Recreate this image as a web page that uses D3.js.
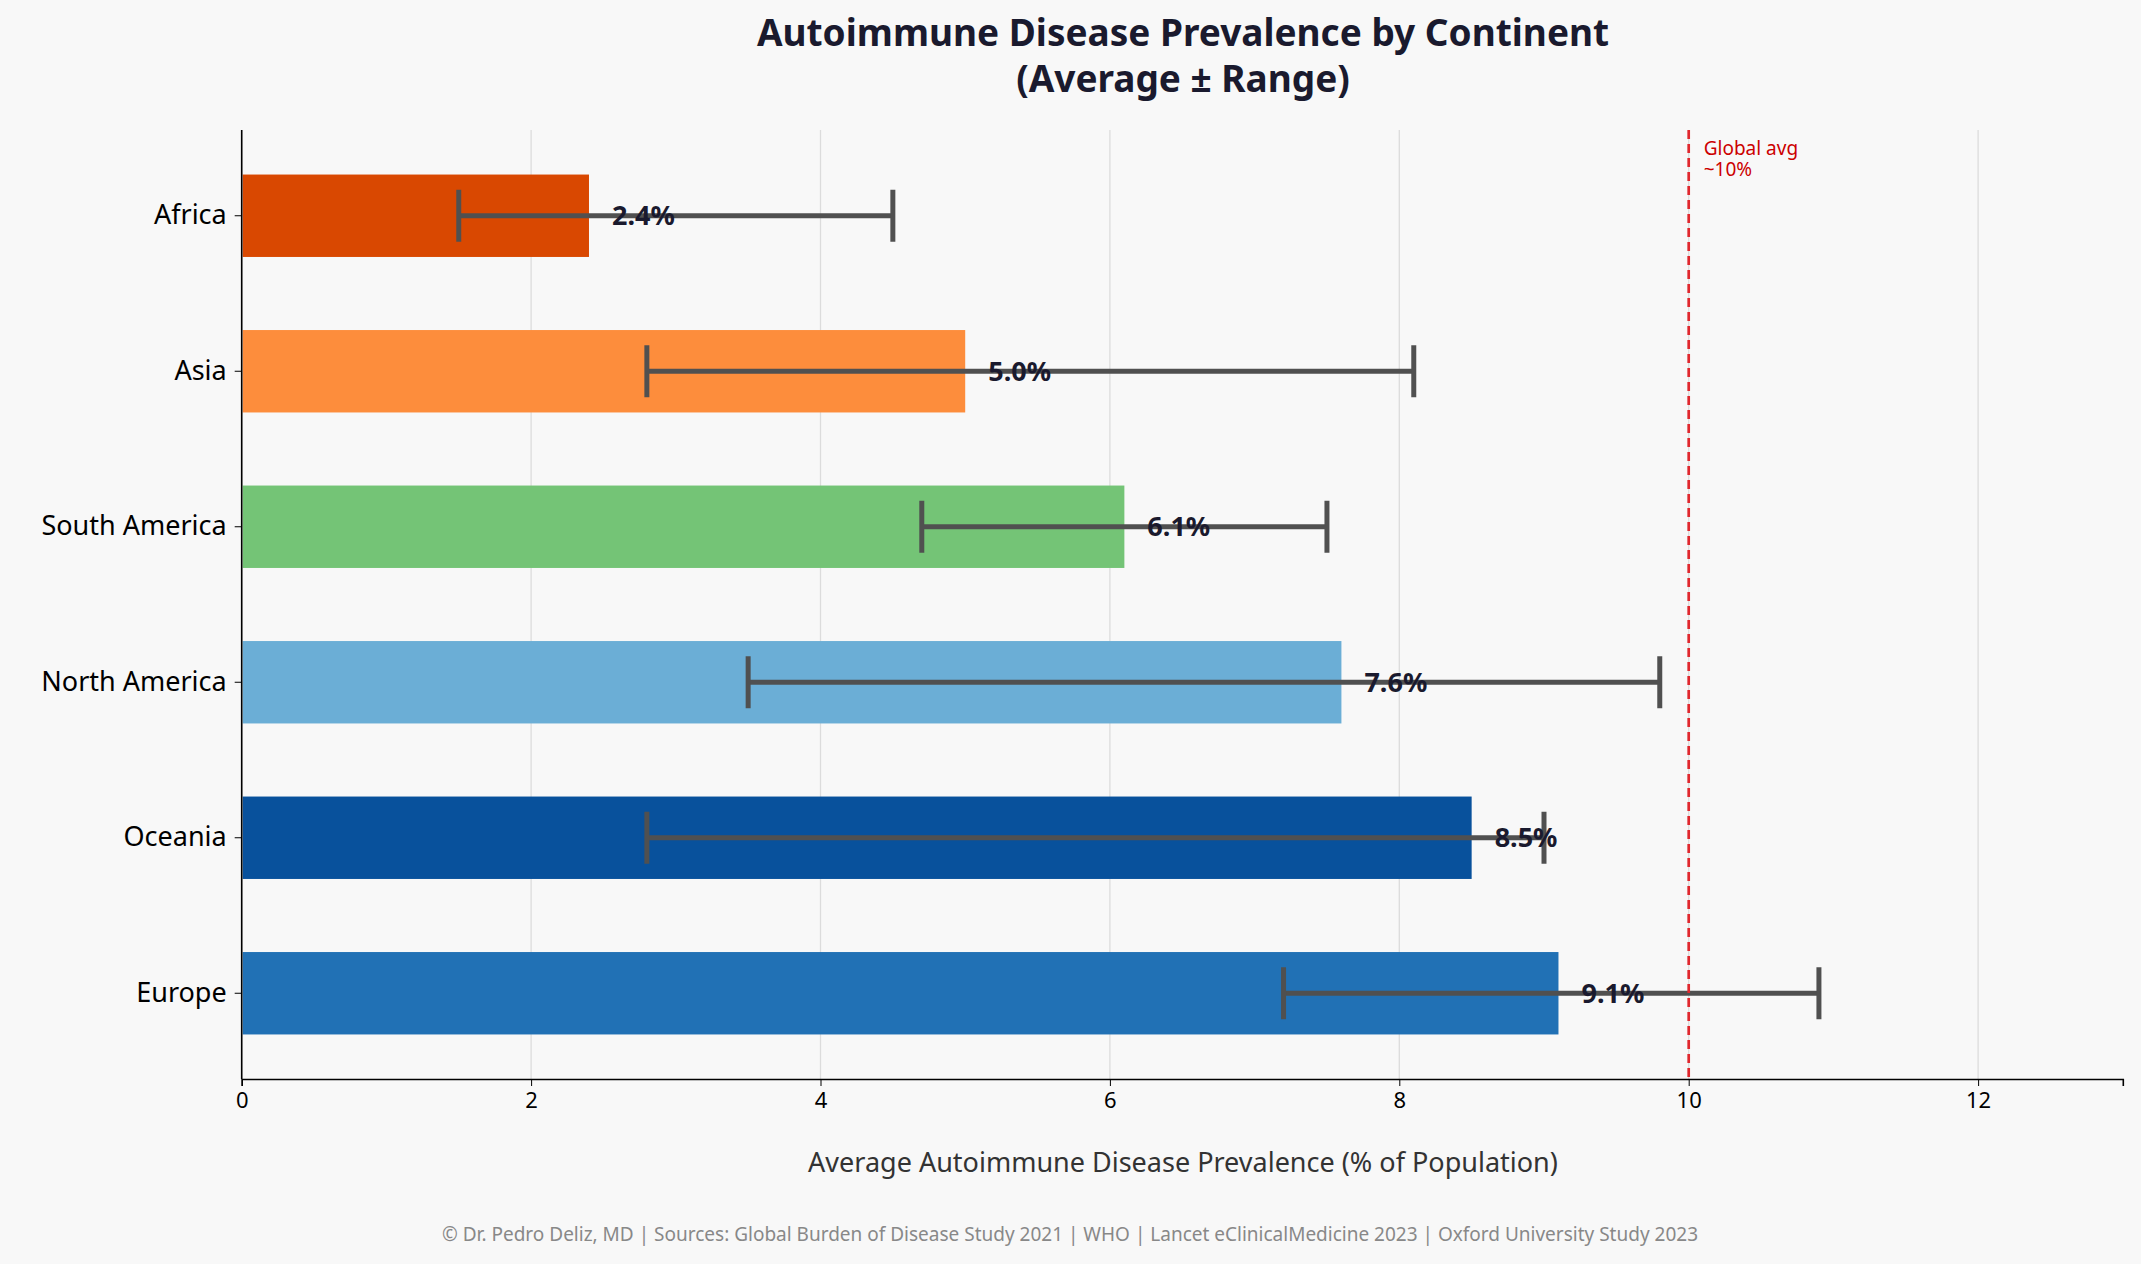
<!DOCTYPE html>
<html><head><meta charset="utf-8">
<script src="https://cdn.jsdelivr.net/npm/d3@7"></script>
<style>body{margin:0;background:#f8f8f8;font-family:"Noto Sans",sans-serif}</style>
</head><body><svg id="c" width="2141" height="1264"></svg>
<script>
const categories=["Africa","Asia","South America","North America","Oceania","Europe"];
const averages=[2.4,5.0,6.1,7.6,8.5,9.1];
const lows=[1.5,2.8,4.7,3.5,2.8,7.2];
const highs=[4.5,8.1,7.5,9.8,9.0,10.9];
const colors=["#d94801","#fd8d3c","#74c476","#6baed6","#08519c","#2171b5"];
const xTicks=[0,2,4,6,8,10,12];
const globalAvg=10;

const svg=d3.select("#c");
svg.append("rect").attr("width",2141).attr("height",1264).attr("fill","#f8f8f8");
const x=d3.scaleLinear().domain([0,13]).range([241.7,241.7+13*144.7]);
const y=d3.scaleBand().domain(categories).range([138,1071]).paddingInner(0.47).paddingOuter(0.235);
const pTop=130,pBot=1079;
svg.selectAll(".g").data(xTicks).join("line").attr("x1",d=>x(d)).attr("x2",d=>x(d))
 .attr("y1",pTop).attr("y2",pBot).attr("stroke","#dcdcdc").attr("stroke-width",1.3);
const bh=y.bandwidth();
svg.selectAll(".b").data(categories).join("rect").attr("x",x(0)+1).attr("y",d=>y(d))
 .attr("width",(d,i)=>x(averages[i])-x(0)-1).attr("height",bh).attr("fill",(d,i)=>colors[i]);
const eg=svg.append("g").attr("stroke","#505050").attr("stroke-width",5);
categories.forEach((c,i)=>{const cy=y(c)+bh/2;
 eg.append("line").attr("x1",x(lows[i])).attr("x2",x(highs[i])).attr("y1",cy).attr("y2",cy);
 [lows[i],highs[i]].forEach(v=>eg.append("line").attr("x1",x(v)).attr("x2",x(v)).attr("y1",cy-26).attr("y2",cy+26));
});
svg.selectAll(".v").data(categories).join("text").attr("x",(d,i)=>x(averages[i])+23)
 .attr("y",d=>y(d)+bh/2).attr("dy","0.35em").attr("font-size",27).attr("font-weight","bold")
 .attr("fill","#1a1a2e").text((d,i)=>averages[i].toFixed(1)+"%");
svg.append("line").attr("x1",x(globalAvg)).attr("x2",x(globalAvg)).attr("y1",pTop).attr("y2",pBot)
 .attr("stroke","#e0282e").attr("stroke-width",2.7).attr("stroke-dasharray","9,5");
const ga=svg.append("text").attr("x",x(globalAvg)+15).attr("y",155).attr("font-size",19).attr("fill","#cc0000");
ga.append("tspan").text("Global avg");
ga.append("tspan").attr("x",x(globalAvg)+15).attr("dy",21).text("~10%");
const xa=svg.append("g").attr("transform",`translate(0,${pBot})`).call(d3.axisBottom(x).tickValues(xTicks).tickSize(7).tickPadding(6));
xa.selectAll("text").attr("font-size",22).attr("fill","#000").attr("font-family","Noto Sans");
xa.select(".domain").attr("stroke","#000").attr("stroke-width",1.6);
const ya=svg.append("g").attr("transform",`translate(${x(0)},0)`).call(d3.axisLeft(y).tickSize(7).tickPadding(8));
ya.select(".domain").attr("d",`M0,${pTop}V${pBot}`).attr("stroke","#000").attr("stroke-width",1.6);
ya.selectAll("text").attr("font-size",27).attr("fill","#000").attr("font-family","Noto Sans");
const t=svg.append("text").attr("x",1183).attr("text-anchor","middle").attr("font-size",37).attr("font-weight","bold").attr("fill","#1a1a2e");
t.append("tspan").attr("x",1183).attr("y",46).text("Autoimmune Disease Prevalence by Continent");
t.append("tspan").attr("x",1183).attr("y",92).text("(Average ± Range)");
svg.append("text").attr("x",1183).attr("y",1172).attr("text-anchor","middle").attr("font-size",27).attr("fill","#333")
 .text("Average Autoimmune Disease Prevalence (% of Population)");
svg.append("text").attr("x",1070).attr("y",1241).attr("text-anchor","middle").attr("font-size",19).attr("fill","#888")
 .text("© Dr. Pedro Deliz, MD | Sources: Global Burden of Disease Study 2021 | WHO | Lancet eClinicalMedicine 2023 | Oxford University Study 2023");
</script></body></html>
